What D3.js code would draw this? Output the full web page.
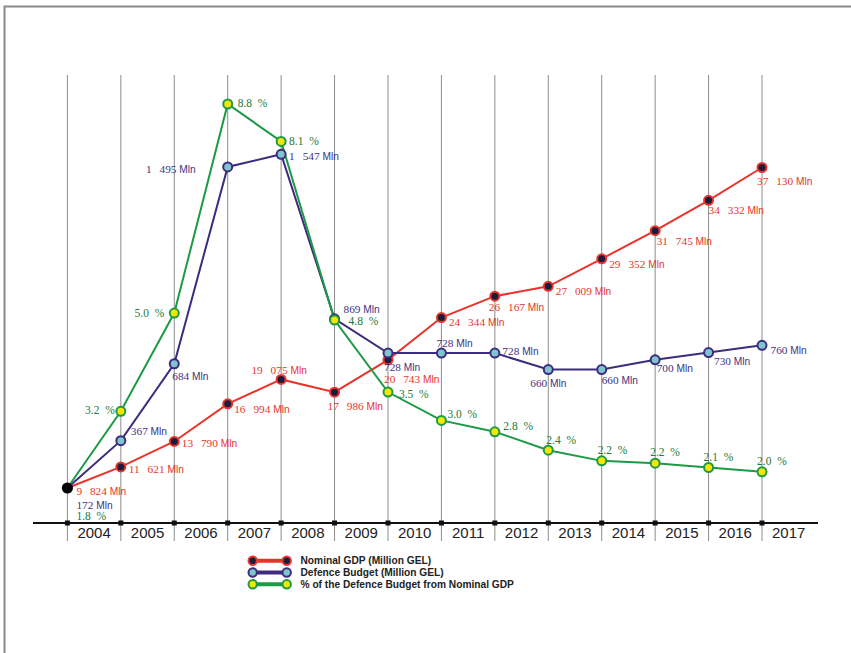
<!DOCTYPE html>
<html>
<head>
<meta charset="utf-8">
<script src="https://cdn.jsdelivr.net/npm/d3@7/dist/d3.min.js"></script>
<style>
  body { margin: 0; background: #fff; }
  svg { display: block; }
  text { white-space: pre; }
</style>
</head>
<body>
<svg id="chart" width="851" height="653"></svg>
<script>
// ---------- DATA ----------
const years = [2004, 2005, 2006, 2007, 2008, 2009, 2010, 2011, 2012, 2013, 2014, 2015, 2016, 2017];
const gdp = [9824, 11621, 13790, 16994, 19075, 17986, 20743, 24344, 26167, 27009, 29352, 31745, 34332, 37130];
const defence = [172, 367, 684, 1495, 1547, 869, 728, 728, 728, 660, 660, 700, 730, 760];
const pct = [1.75, 3.158, 4.96, 8.797, 8.11, 4.832, 3.51, 2.991, 2.782, 2.444, 2.248, 2.205, 2.126, 2.047];
const seriesNames = [
  "Nominal GDP (Million GEL)",
  "Defence Budget (Million GEL)",
  "% of the Defence Budget from Nominal GDP"
];

// ---------- LAYOUT (label offsets relative to points) ----------
const gdpLabelPos = [[9,7],[8,6],[7.5,5.5],[6.5,9],[-2,-5,"middle"],[-7,17.5],[-4,23.5],[7.5,8],[-6,14.5],[7.5,9],[7.5,9.5],[1.5,14],[0,14],[-5,17]];
const defLabelPos = [[9,21],[10,-6],[-2,16],[-32,6,"end"],[8,6],[9,-6],[-4,17.5],[-5,-6],[7.5,1.5],[-18,17],[0,14.5],[1.5,12],[5.5,12.5],[8.5,9]];
const pctLabelPos = [[9,32],[-6,3,"end"],[-10,4,"end"],[10,3],[8,3.5],[14,5],[11,5.5],[6,-2.5],[8.5,-2],[-2,-6],[-4,-7],[-5,-7],[-5,-7],[-5,-7]];

const C = {
  red: "#e8342b", navy: "#1d1b3b",
  purple: "#3d2b80", teal: "#7fc5cd",
  green: "#1c9a45", yellow: "#f3e600",
  redText: "#e8342b", purpleText: "#3e3183", greenText: "#23793c",
  grid: "#8c8c8c"
};
const SERIF = "'Liberation Serif','DejaVu Serif',serif";
const SANS = "'Liberation Sans',Arial,sans-serif";

const svg = d3.select("#chart");

// frame
svg.append("path")
  .attr("d", "M4.5,653 V6.5 H851")
  .attr("fill", "none").attr("stroke", "#8a8a8a").attr("stroke-width", 2);

// scales
const x = d3.scaleLinear().domain(d3.extent(years)).range([67.4, 762]);
const step = x(2005) - x(2004);
const band = d3.scaleBand().domain(years).range([x(2004), x(2017) + step]).padding(0);
const yGdp = d3.scaleLinear().domain(d3.extent(gdp)).range([488, 167.5]);
const yDef = d3.scaleLinear().domain(d3.extent(defence)).range([488, 154.3]);
const yPct = d3.scaleLinear().domain(d3.extent(pct)).range([488, 104]);

const axisY = 523;

// gridlines
svg.append("g").selectAll("line").data(years).join("line")
  .attr("x1", d => x(d)).attr("x2", d => x(d))
  .attr("y1", 75).attr("y2", 541)
  .attr("stroke", C.grid).attr("stroke-width", 1);

// axis line
svg.append("line")
  .attr("x1", 33).attr("x2", 818).attr("y1", axisY).attr("y2", axisY)
  .attr("stroke", "#111").attr("stroke-width", 2);
svg.append("g").selectAll("rect").data(years).join("rect")
  .attr("x", d => x(d) - 2.5).attr("y", axisY - 2.5)
  .attr("width", 5).attr("height", 5).attr("fill", "#111");

// year labels via d3 axis
const ax = svg.append("g")
  .attr("transform", `translate(0,${axisY})`)
  .call(d3.axisBottom(band).tickSize(0).tickPadding(4));
ax.select(".domain").remove();
ax.selectAll("text")
  .attr("font-family", SANS).attr("font-size", 15).attr("fill", "#222");

// series
const series = [
  { vals: gdp, y: yGdp, line: C.red, fill: C.navy },
  { vals: defence, y: yDef, line: C.purple, fill: C.teal },
  { vals: pct, y: yPct, line: C.green, fill: C.yellow }
];

series.forEach(s => {
  const lg = d3.line().x((d, i) => x(years[i])).y(d => s.y(d));
  svg.append("path").datum(s.vals)
    .attr("d", lg).attr("fill", "none")
    .attr("stroke", s.line).attr("stroke-width", 2);
});
series.forEach(s => {
  svg.append("g").selectAll("circle").data(s.vals.slice(1)).join("circle")
    .attr("cx", (d, i) => x(years[i + 1])).attr("cy", d => s.y(d))
    .attr("r", 4.5).attr("fill", s.fill)
    .attr("stroke", s.line).attr("stroke-width", 2);
});
// common start point
svg.append("circle")
  .attr("cx", x(years[0])).attr("cy", yGdp(gdp[0]))
  .attr("r", 5.6).attr("fill", "#000");

// labels
const fmtNum = v => d3.format(",")(v).replace(",", "\u2002\u2009");
function mlnLabels(vals, yS, pos, color) {
  const g = svg.append("g");
  vals.forEach((v, i) => {
    const p = pos[i];
    const t = g.append("text")
      .attr("x", x(years[i]) + p[0]).attr("y", yS(v) + p[1])
      .attr("text-anchor", p[2] || "start")
      .attr("fill", color);
    t.append("tspan").attr("font-family", SERIF).attr("font-size", 11.3).text(fmtNum(v));
    t.append("tspan").attr("font-family", SANS).attr("font-size", 10.2).text(" Mln");
  });
}
mlnLabels(gdp, yGdp, gdpLabelPos, C.redText);
mlnLabels(defence, yDef, defLabelPos, C.purpleText);

const fmtPct = d3.format(".1f");
svg.append("g").selectAll("text").data(pct).join("text")
  .attr("x", (d, i) => x(years[i]) + pctLabelPos[i][0])
  .attr("y", (d, i) => yPct(d) + pctLabelPos[i][1])
  .attr("text-anchor", (d, i) => pctLabelPos[i][2] || "start")
  .attr("font-family", SERIF).attr("font-size", 11.5)
  .attr("fill", C.greenText)
  .text(d => fmtPct(d) + "  %");

// legend
const legend = svg.append("g");
const legendRows = seriesNames.map((n, i) => ({ name: n, s: series[i] }));
legendRows.forEach((r, i) => {
  const yy = 560.7 + i * 11.8;
  legend.append("line")
    .attr("x1", 252.7).attr("x2", 286.7).attr("y1", yy).attr("y2", yy)
    .attr("stroke", r.s.line).attr("stroke-width", 4);
  [252.7, 286.7].forEach(cx => {
    legend.append("circle").attr("cx", cx).attr("cy", yy).attr("r", 4.2)
      .attr("fill", r.s.fill).attr("stroke", r.s.line).attr("stroke-width", 2);
  });
  legend.append("text")
    .attr("x", 300.5).attr("y", yy + 3.6)
    .attr("font-family", SANS).attr("font-size", 10.2).attr("font-weight", "bold")
    .attr("fill", "#222").text(r.name);
});
</script>
</body>
</html>
